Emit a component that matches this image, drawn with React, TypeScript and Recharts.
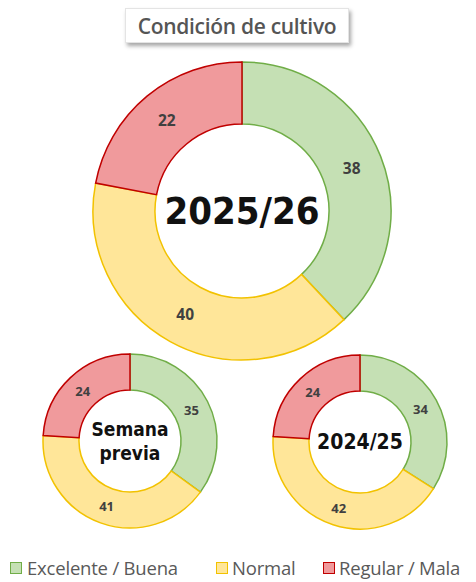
import React from "react";
import { PieChart, Pie, Cell, Label } from "recharts";

const categories = ["Excelente / Buena", "Normal", "Regular / Mala"];
const current = [38, 40, 22];
const previousWeek = [35, 41, 24];
const lastYear = [34, 42, 24];
const centerLabels = ["2025/26", "Semana previa", "2024/25"];

const fills = ["#C5E0B4", "#FFE699", "#F09A9C"];
const strokes = ["#70AD47", "#F2C200", "#C00000"];

const toData = (vals: number[]) => vals.map((v, i) => ({ name: categories[i], value: v }));

const RADIAN = Math.PI / 180;

const makeLabel = (fontSize: number) => (props: any) => {
  const { cx, cy, midAngle, innerRadius, outerRadius, value } = props;
  const r = (innerRadius + outerRadius) / 2;
  const x = cx + r * Math.cos(-midAngle * RADIAN);
  const y = cy + r * Math.sin(-midAngle * RADIAN);
  return (
    <text x={x} y={y} textAnchor="middle" dominantBaseline="central" fontSize={fontSize} fontWeight="bold" fill="#404040" fontFamily="'Open Sans', sans-serif">
      {value}
    </text>
  );
};

const centerContent = (lines: string[], fontSize: number, cx: number, cy: number) => () => {
  const lh = fontSize * 1.3;
  const start = cy - ((lines.length - 1) * lh) / 2;
  return (
    <text textAnchor="middle" fontSize={fontSize} fontWeight="bold" fill="#111" fontFamily="'DejaVu Sans Condensed', 'DejaVu Sans', sans-serif">
      {lines.map((l, i) => (
        <tspan key={i} x={cx} y={start + i * lh} dominantBaseline="central">{l}</tspan>
      ))}
    </text>
  );
};

const legendPos = [
  { sq: 10, tx: 27 },
  { sq: 216, tx: 232 },
  { sq: 323, tx: 339 },
];

export default function App() {
  const W = 476;
  const H = 582;
  const pies = [
    { data: toData(current), cx: 242, cy: 211, ir: 87, or: 149, lines: [centerLabels[0]], fs: 38, lfs: 15.5 },
    { data: toData(previousWeek), cx: 130, cy: 441, ir: 51, or: 87, lines: ["Semana", "previa"], fs: 19, lfs: 13 },
    { data: toData(lastYear), cx: 360, cy: 442, ir: 51, or: 87, lines: [centerLabels[2]], fs: 21, lfs: 13 },
  ];
  return (
    <div style={{ position: "absolute", left: 0, top: 0, width: W, height: H, background: "#fff" }}>
      <PieChart width={W} height={H} margin={{ top: 0, right: 0, bottom: 0, left: 0 }}>
        {pies.map((p, k) => (
          <Pie
            key={k}
            data={p.data}
            dataKey="value"
            cx={p.cx}
            cy={p.cy}
            innerRadius={p.ir}
            outerRadius={p.or}
            startAngle={90}
            endAngle={-270}
            isAnimationActive={false}
            labelLine={false}
            label={makeLabel(p.lfs)}
          >
            {p.data.map((d, i) => (
              <Cell key={i} fill={fills[i]} stroke={strokes[i]} strokeWidth={1.5} />
            ))}
            <Label position="center" content={centerContent(p.lines, p.fs, p.cx, p.cy)} />
          </Pie>
        ))}
      </PieChart>
      <div
        style={{
          position: "absolute",
          left: 125,
          top: 8,
          width: 224,
          height: 35,
          background: "#fff",
          boxShadow: "2px 3px 4px rgba(0,0,0,0.35)",
          border: "1px solid #e4e4e4",
          boxSizing: "border-box",
          display: "flex",
          alignItems: "center",
          justifyContent: "center",
          fontFamily: "'Open Sans', sans-serif",
          fontWeight: 600,
          fontSize: 21,
          letterSpacing: -0.3,
          color: "#555",
          whiteSpace: "nowrap",
        }}
      >
        Condición de cultivo
      </div>
      {categories.map((c, i) => (
        <React.Fragment key={i}>
          <span
            style={{
              position: "absolute",
              left: legendPos[i].sq,
              top: 562,
              width: 12,
              height: 12,
              boxSizing: "border-box",
              background: fills[i],
              border: `1.5px solid ${strokes[i]}`,
            }}
          />
          <span
            style={{
              position: "absolute",
              left: legendPos[i].tx,
              top: 556,
              lineHeight: "24px",
              fontFamily: "'Open Sans', sans-serif",
              fontSize: 18.5,
              letterSpacing: -0.2,
              color: "#595959",
              whiteSpace: "nowrap",
            }}
          >
            {c}
          </span>
        </React.Fragment>
      ))}
    </div>
  );
}
